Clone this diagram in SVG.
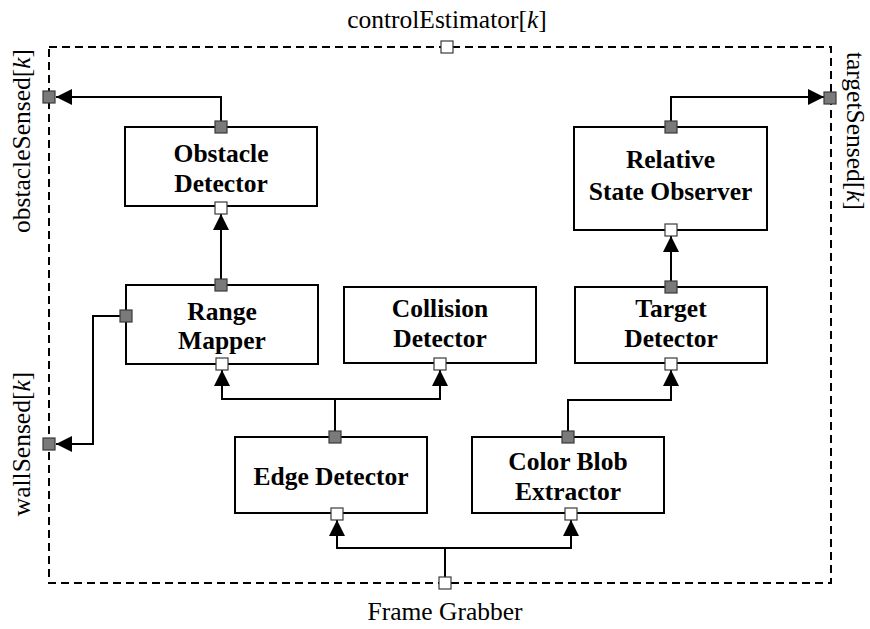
<svg xmlns="http://www.w3.org/2000/svg" width="870" height="629" viewBox="0 0 870 629">
  <defs>
    <marker id="arrow" viewBox="0 0 16 16" refX="16" refY="8" markerWidth="16" markerHeight="16" markerUnits="userSpaceOnUse" orient="auto">
      <path d="M0,0 L16,8 L0,16 Z" fill="#000"/>
    </marker>
    <style>
      .frame { fill: none; stroke: #000; stroke-width: 2; stroke-dasharray: 8 5; }
      .box { fill: #fff; stroke: #000; stroke-width: 2; }
      .wire { fill: none; stroke: #000; stroke-width: 2; }
      .arrowed { marker-end: url(#arrow); }
      .pout { fill: #7a7a7a; stroke: #3a3a3a; stroke-width: 1.2; }
      .pin { fill: #fff; stroke: #3a3a3a; stroke-width: 1.2; }
      .title { font-family: "Liberation Serif", "Times New Roman", serif; font-weight: bold; font-size: 25.5px; text-anchor: middle; fill: #000; }
      .label { font-family: "Liberation Serif", "Times New Roman", serif; font-size: 25.5px; text-anchor: middle; fill: #000; }
    </style>
  </defs>
  <rect width="870" height="629" fill="#fff"/>

  <!-- composite boundary -->
  <g id="controlEstimator">
    <rect class="frame" x="49" y="47" width="782" height="536"/>
    <text class="label" x="447" y="28">controlEstimator[<tspan font-style="italic">k</tspan>]</text>
    <text class="label" x="445" y="620">Frame Grabber</text>
    <text class="label" transform="translate(30,141) rotate(-90)">obstacleSensed[<tspan font-style="italic">k</tspan>]</text>
    <text class="label" transform="translate(30,444) rotate(-90)">wallSensed[<tspan font-style="italic">k</tspan>]</text>
    <text class="label" transform="translate(847,131) rotate(90)">targetSensed[<tspan font-style="italic">k</tspan>]</text>
  </g>

  <!-- connectors -->
  <g id="connectors">
    <path class="wire arrowed" d="M221,121 V97 H56"/>
    <path class="wire arrowed" d="M120,316 H93 V444 H56"/>
    <path class="wire arrowed" d="M221,279 V214"/>
    <path class="wire" d="M335,431 V399"/>
    <path class="wire arrowed" d="M335,399 H222 V370"/>
    <path class="wire arrowed" d="M335,399 H440 V370"/>
    <path class="wire arrowed" d="M568,431 V400 H671 V370"/>
    <path class="wire arrowed" d="M671,281 V236"/>
    <path class="wire arrowed" d="M671,121 V97 H824"/>
    <path class="wire" d="M445,577 V548"/>
    <path class="wire arrowed" d="M445,548 H337 V520"/>
    <path class="wire arrowed" d="M445,548 H571 V520"/>
  </g>

  <!-- nodes -->
  <g id="obstacleDetector">
    <rect class="box" x="125" y="127" width="192" height="79"/>
    <text class="title" x="221" y="162">Obstacle</text>
    <text class="title" x="221" y="192">Detector</text>
    <rect class="pout" x="215" y="121" width="12" height="12"/>
    <rect class="pin" x="215" y="202" width="12" height="12"/>
  </g>

  <g id="relativeStateObserver">
    <rect class="box" x="574" y="127" width="193" height="103"/>
    <text class="title" x="670.5" y="168">Relative</text>
    <text class="title" x="670.5" y="200">State Observer</text>
    <rect class="pout" x="665" y="121" width="12" height="12"/>
    <rect class="pin" x="665" y="224" width="12" height="12"/>
  </g>

  <g id="rangeMapper">
    <rect class="box" x="126" y="285" width="192" height="79"/>
    <text class="title" x="222" y="320">Range</text>
    <text class="title" x="222" y="349">Mapper</text>
    <rect class="pout" x="215" y="279" width="12" height="12"/>
    <rect class="pout" x="120" y="310" width="12" height="12"/>
    <rect class="pin" x="216" y="358" width="12" height="12"/>
  </g>

  <g id="collisionDetector">
    <rect class="box" x="344" y="287" width="192" height="76"/>
    <text class="title" x="440" y="317">Collision</text>
    <text class="title" x="440" y="347">Detector</text>
    <rect class="pin" x="434" y="358" width="12" height="12"/>
  </g>

  <g id="targetDetector">
    <rect class="box" x="575" y="287" width="192" height="76"/>
    <text class="title" x="671" y="317">Target</text>
    <text class="title" x="671" y="347">Detector</text>
    <rect class="pout" x="665" y="281" width="12" height="12"/>
    <rect class="pin" x="665" y="358" width="12" height="12"/>
  </g>

  <g id="edgeDetector">
    <rect class="box" x="235" y="437" width="192" height="76"/>
    <text class="title" x="331" y="485">Edge Detector</text>
    <rect class="pout" x="329" y="431" width="12" height="12"/>
    <rect class="pin" x="331" y="508" width="12" height="12"/>
  </g>

  <g id="colorBlobExtractor">
    <rect class="box" x="472" y="437" width="192" height="76"/>
    <text class="title" x="568" y="470">Color Blob</text>
    <text class="title" x="568" y="500">Extractor</text>
    <rect class="pout" x="562" y="431" width="12" height="12"/>
    <rect class="pin" x="565" y="508" width="12" height="12"/>
  </g>

  <!-- boundary ports -->
  <g id="boundaryPorts">
    <rect class="pin" x="441" y="41" width="12" height="12"/>
    <rect class="pin" x="439" y="577" width="12" height="12"/>
    <rect class="pout" x="43" y="91" width="12" height="12"/>
    <rect class="pout" x="43" y="438" width="12" height="12"/>
    <rect class="pout" x="824" y="92" width="12" height="12"/>
  </g>
</svg>
